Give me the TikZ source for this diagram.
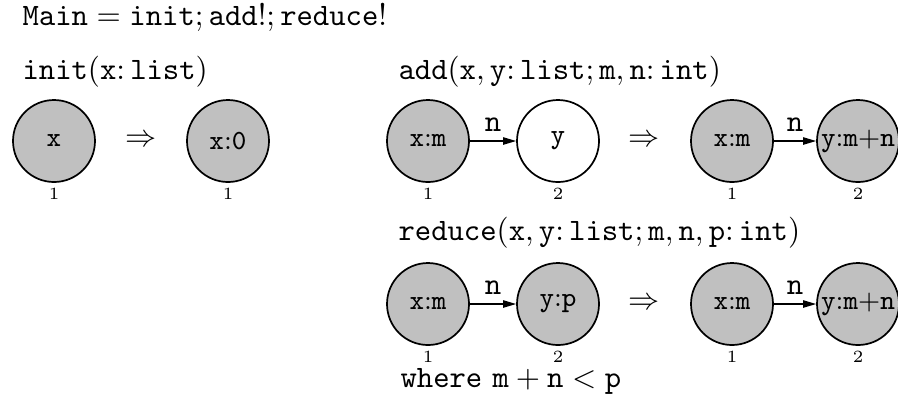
\RequirePackage{fix-cm}
\documentclass[tikz,border=0pt]{standalone}
\usetikzlibrary{arrows.meta}
\definecolor{nodegray}{RGB}{192,192,192}
\newcommand{\headfont}{\fontsize{10.9}{13}\selectfont}
\newcommand{\statefont}{\fontsize{9.7}{11}\selectfont}
\newcommand{\numfont}{\fontsize{6}{7}\selectfont}
\newcommand{\lab}[2]{$\mathtt{#1}{:}\mathtt{#2}$}
\begin{document}
\begin{tikzpicture}[x=0.35pt,y=-0.35pt,
  state/.style={circle, draw, line width=0.6pt, minimum size=28.7pt, inner sep=0pt, font=\statefont},
  filled/.style={state, fill=nodegray},
  hollow/.style={state, fill=white},
  num/.style={font=\numfont, inner sep=0pt},
  nl1/.style={label={[num,label distance=1.8pt]below:1}},
  nl2/.style={label={[num,label distance=1.8pt]below:2}},
  head/.style={anchor=base west, inner sep=0pt, font=\headfont},
  conn/.style={line width=0.45pt, -{Triangle[length=4.6pt,width=2.6pt]}},
  elabel/.style={above, font=\headfont\ttfamily, inner sep=3.2pt},
  impl/.style={inner sep=0pt, font=\headfont}]
\useasboundingbox (0,0) rectangle (898,395);

% headings
\node[head] (main) at (22,25) {$\mathtt{Main}=\mathtt{init};\mathtt{add}!;\mathtt{reduce}!$};
\node[head] (hinit) at (22,79) {$\mathtt{init}(\mathtt{x}\colon\mathtt{list})$};
\node[head] (hadd) at (398,79) {$\mathtt{add}(\mathtt{x},\mathtt{y}\colon\mathtt{list};\mathtt{m},\mathtt{n}\colon\mathtt{int})$};
\node[head] (hred) at (398,240) {$\mathtt{reduce}(\mathtt{x},\mathtt{y}\colon\mathtt{list};\mathtt{m},\mathtt{n},\mathtt{p}\colon\mathtt{int})$};
\node[head] (where) at (400,387) {\texttt{where} $\mathtt{m}+\mathtt{n}<\mathtt{p}$};

% init
\node[filled,nl1] (a1) at (54,141) {$\mathtt{x}$};
\node[impl] (ar) at (141,141) {$\Rightarrow$};
\node[filled,nl1] (a2) at (228,141) {\lab{x}{0}};

% add
\node[filled,nl1] (b1) at (428,141) {\lab{x}{m}};
\node[hollow,nl2] (b2) at (558,141) {$\mathtt{y}$};
\node[impl] (br) at (644,141) {$\Rightarrow$};
\node[filled,nl1] (b3) at (732,141) {\lab{x}{m}};
\node[filled,nl2] (b4) at (858,141) {$\mathtt{y}{:}\mathtt{m}{+}\mathtt{n}$};
\draw[conn] (b1) -- node[elabel] (bl1) {n} (b2);
\draw[conn] (b3) -- node[elabel] (bl2) {n} (b4);

% reduce
\node[filled,nl1] (c1) at (428,304) {\lab{x}{m}};
\node[filled,nl2] (c2) at (558,304) {\lab{y}{p}};
\node[impl] (cr) at (644,304) {$\Rightarrow$};
\node[filled,nl1] (c3) at (732,304) {\lab{x}{m}};
\node[filled,nl2] (c4) at (858,304) {$\mathtt{y}{:}\mathtt{m}{+}\mathtt{n}$};
\draw[conn] (c1) -- node[elabel] (cl1) {n} (c2);
\draw[conn] (c3) -- node[elabel] (cl2) {n} (c4);
\end{tikzpicture}
\end{document}
